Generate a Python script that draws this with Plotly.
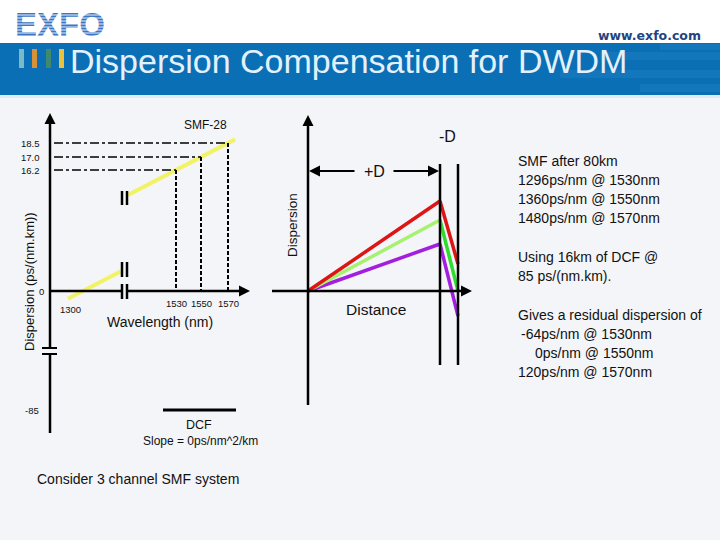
import numpy as np
import plotly.graph_objects as go

# ---------------- data ----------------
channels_nm = [1530, 1550, 1570]          # DWDM channels
smf_disp = [16.2, 17.0, 18.5]             # SMF-28 dispersion, ps/(nm.km)
zero_disp_nm = 1300                       # SMF-28 zero-dispersion label
dcf_disp = -85                            # DCF dispersion, ps/(nm.km)
smf_accum = [1296, 1360, 1480]            # ps/nm after 80 km SMF
residual = [-64, 0, 120]                  # ps/nm after 16 km DCF
smf_km, dcf_km = 80, 16

info_lines = ["SMF after 80km"] + [f"{a}ps/nm @ {w}nm" for a, w in zip(smf_accum, channels_nm)]
dcf_lines = [f"Using {dcf_km}km of DCF @", f"{-dcf_disp} ps/(nm.km)."]
res_lines = ["Gives a residual dispersion of"] + [f"{r}ps/nm @ {w}nm" for r, w in zip(residual, channels_nm)]

# ---------------- schematic layout (pixel positions) ----------------
FONT = "Liberation Sans"
BG = "#F4F5F8"
# left panel
L_X0, L_Y0 = 50, 291                 # axis origin
wl_px = [176, 201, 228]              # where each channel sits on the wavelength axis
disp_px = [170, 157, 143]            # where each SMF value sits on the dispersion axis
neg_px = 410                         # where -85 sits
zero_cross_px = 83                   # where SMF line crosses zero
# middle panel
M_X0, M_Y0 = 308, 291
m_x_smf = 440
m_x_end = 458
peak_px = [244, 220, 201]
end_px = [316, 291, 264]

rise_col = ["#A21FE0", "#A6F270", "#DD1515"]
drop_col = ["#A21FE0", "#2EDB2E", "#DD1515"]

fig = go.Figure()
shapes = []
ann = []

def line(x0, y0, x1, y1, color="black", width=2.5, dash=None):
    d = dict(type="line", xref="x", yref="y", x0=x0, y0=y0, x1=x1, y1=y1,
             line=dict(color=color, width=width))
    if dash:
        d["line"]["dash"] = dash
    shapes.append(d)

def text(x, y, s, size=13, color="#111", xanchor="center", angle=0, family=FONT, bold=False):
    if bold:
        s = f"<b>{s}</b>"
    ann.append(dict(x=x, y=y, xref="x", yref="y", text=s, showarrow=False, textangle=angle,
                    xanchor=xanchor, yanchor="middle", font=dict(size=size, color=color, family=family)))

def arrow(x_tip, y_tip, x_tail, y_tail, width=2):
    ann.append(dict(x=x_tip, y=y_tip, ax=x_tail, ay=y_tail, xref="x", yref="y", axref="x", ayref="y",
                    text="", showarrow=True, arrowhead=2, arrowsize=1.1, arrowwidth=width,
                    arrowcolor="black", standoff=0))

# ---------------- header ----------------
shapes.append(dict(type="rect", xref="x", yref="y", x0=0, x1=720, y0=0, y1=43, fillcolor="white", line_width=0, layer="below"))
shapes.append(dict(type="rect", xref="x", yref="y", x0=0, x1=720, y0=43, y1=95, fillcolor="#0B6FB5", line_width=0, layer="below"))
shapes.append(dict(type="rect", xref="x", yref="y", x0=0, x1=720, y0=95, y1=98, fillcolor="#DCEBF6", line_width=0, layer="below"))
for (x0, x1, y0, y1) in [(600, 720, 52, 60), (560, 720, 70, 78), (640, 720, 84, 92), (660, 720, 44, 50)]:
    shapes.append(dict(type="rect", xref="x", yref="y", x0=x0, x1=x1, y0=y0, y1=y1, fillcolor="#1B7CC0",
                       line_width=0, layer="below", opacity=0.6))
for xb, col in zip([19, 32, 46, 59], ["#7DB9C4", "#D69139", "#3F8A6E", "#EDC23A"]):
    shapes.append(dict(type="rect", xref="x", yref="y", x0=xb, x1=xb + 5, y0=49, y1=68, fillcolor=col, line_width=0))
text(68, 61, "Dispersion Compensation for DWDM", size=34, color="#E3F1FC", xanchor="left")
# logo as a text trace so that the white stripes (shapes) sit over it
fig.add_trace(go.Scatter(x=[15], y=[28], mode="text", text=["<b>EXFO</b>"], textposition="middle right",
                         textfont=dict(size=33, color="#3C76C6", family="Liberation Sans"), hoverinfo="skip"))
for ys in range(15, 40, 3):
    line(14, ys, 110, ys, color="white", width=0.9)
text(703, 35, "www.exfo.com", size=12.5, color="#23457F", xanchor="right", bold=True, family="DejaVu Sans")

# ---------------- left panel ----------------
line(L_X0, 118, L_X0, 348)
line(L_X0, 355, L_X0, 433)
line(42, 348, 57, 348, width=2)
line(42, 354, 57, 354, width=2)
arrow(L_X0, 113, L_X0, 140)
line(L_X0, L_Y0, 121, L_Y0)
line(128, L_Y0, 240, L_Y0)
line(122, 284, 122, 299, width=2.5)
line(127, 284, 127, 299, width=2.5)
arrow(250, L_Y0, 225, L_Y0)

slope = (disp_px[-1] - disp_px[0]) / (wl_px[-1] - wl_px[0])
ux = np.array([128, 235])
uy = disp_px[0] + (ux - wl_px[0]) * slope
fig.add_trace(go.Scatter(x=ux, y=uy, mode="lines", line=dict(color="#F2F265", width=4), hoverinfo="skip"))
lx = np.array([68, 121])
ly = L_Y0 + (lx - zero_cross_px) * slope
fig.add_trace(go.Scatter(x=lx, y=ly, mode="lines", line=dict(color="#F2F265", width=4), hoverinfo="skip"))
for yb0, yb1 in [(191, 205), (262, 277)]:
    line(122, yb0, 122, yb1, width=2.5)
    line(127, yb0, 127, yb1, width=2.5)

for wpx, dpx, w, d in zip(wl_px, disp_px, channels_nm, smf_disp):
    fig.add_trace(go.Scatter(x=[54, wpx], y=[dpx, dpx], mode="lines",
                             line=dict(color="black", width=1.6, dash="dashdot"), hoverinfo="skip"))
    fig.add_trace(go.Scatter(x=[wpx, wpx], y=[dpx, L_Y0], mode="lines",
                             line=dict(color="black", width=2, dash="4px,2px"), hoverinfo="skip"))
    text(wpx, 303, str(w), size=9.5)
    text(42, dpx, f"{d:.1f}", size=9.5, xanchor="right")
text(46, L_Y0, "0", size=9.5, xanchor="right")
text(41, neg_px, str(dcf_disp), size=9.5, xanchor="right")
text(70, 309, str(zero_disp_nm), size=9.5)
text(160, 322, "Wavelength (nm)", size=14)
text(205, 125, "SMF-28", size=12)
text(29, 282, "Dispersion (ps/(nm.km))", size=13, angle=-90)

fig.add_trace(go.Scatter(x=[163, 236], y=[neg_px, neg_px], mode="lines", line=dict(color="black", width=3), hoverinfo="skip"))
text(199, 425, "DCF", size=12.5)
text(200, 441, "Slope = 0ps/nm^2/km", size=12)
text(138, 479, "Consider 3 channel SMF system", size=14)

# ---------------- middle panel ----------------
line(M_X0, 121, M_X0, 405)
arrow(M_X0, 115, M_X0, 140)
line(272, M_Y0, 462, M_Y0)
arrow(472, M_Y0, 450, M_Y0)
line(m_x_smf, 164, m_x_smf, 365)
line(m_x_end, 164, m_x_end, 365)
arrow(309, 171, 356, 171)
arrow(439, 171, 392, 171)
text(374, 171, "+D", size=16)
text(447, 136, "-D", size=16)
text(292, 225, "Dispersion", size=13.5, angle=-90)
text(376, 309, "Distance", size=15.5)
for i in range(3):
    fig.add_trace(go.Scatter(x=[M_X0, m_x_smf], y=[M_Y0, peak_px[i]], mode="lines",
                             line=dict(color=rise_col[i], width=3.5), hoverinfo="skip"))
    fig.add_trace(go.Scatter(x=[m_x_smf, m_x_end], y=[peak_px[i], end_px[i]], mode="lines",
                             line=dict(color=drop_col[i], width=3.5), hoverinfo="skip"))

# ---------------- right text ----------------
RS = 14
ys = [161, 180, 199, 218]
for y, s in zip(ys, info_lines):
    text(516, y, s, size=RS, xanchor="left")
for y, s in zip([257, 276], dcf_lines):
    text(516, y, s, size=RS, xanchor="left")
for y, s, x in zip([315, 334, 353, 372], res_lines, [516, 519, 533, 516]):
    text(x, y, s, size=RS, xanchor="left")

fig.update_layout(
    width=720, height=540, margin=dict(l=0, r=0, t=0, b=0),
    paper_bgcolor=BG, plot_bgcolor=BG, showlegend=False,
    xaxis=dict(range=[0, 720], visible=False, fixedrange=True),
    yaxis=dict(range=[540, 0], visible=False, fixedrange=True),
    shapes=shapes, annotations=ann,
)
fig.write_html("out.html", config={"displayModeBar": False},
               post_script="document.body.style.margin='0';document.body.style.overflow='hidden';")
